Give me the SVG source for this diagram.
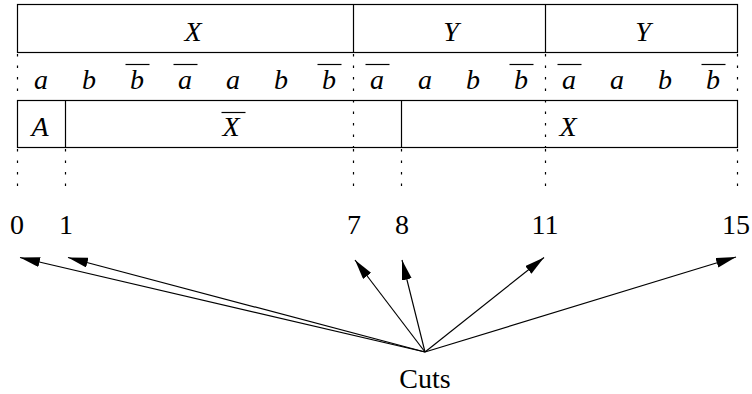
<svg xmlns="http://www.w3.org/2000/svg" width="752" height="394" viewBox="0 0 752 394">
<defs>
<style>
.box{fill:none;stroke:#000;stroke-width:1.2}
.dot{fill:none;stroke:#000;stroke-width:1.2;stroke-dasharray:2.5 9}
.bar{stroke:#000;stroke-width:1.2}
.it{font-family:"Liberation Serif",serif;font-style:italic;font-size:28px;text-anchor:middle;fill:#000}
.rm{font-family:"Liberation Serif",serif;font-size:28px;text-anchor:middle;fill:#000}
.arr{fill:none;stroke:#000;stroke-width:1.2;marker-end:url(#ah)}
</style>
<marker id="ah" viewBox="0 0 20 10" refX="20" refY="5" markerWidth="20" markerHeight="10" markerUnits="userSpaceOnUse" orient="auto">
<path d="M0,0 L20,5 L0,10 Z" fill="#000"/>
</marker>
</defs>
<rect width="752" height="394" fill="#fff"/>

<g id="top-row">
<rect class="box" x="17.5" y="4.5" width="720" height="48"/>
<line class="box" x1="353.5" y1="4.5" x2="353.5" y2="52.5"/>
<line class="box" x1="545.5" y1="4.5" x2="545.5" y2="52.5"/>
<text class="it" x="193" y="41">X</text>
<text class="it" x="451" y="41">Y</text>
<text class="it" x="643" y="41">Y</text>
</g>

<g id="middle-row">
<text class="it" x="41" y="89">a</text>
<text class="it" x="89" y="89">b</text>
<text class="it" x="137" y="89">b</text><line class="bar" x1="125.5" y1="64.5" x2="149.5" y2="64.5"/>
<text class="it" x="185" y="89">a</text><line class="bar" x1="173.5" y1="64.5" x2="197.5" y2="64.5"/>
<text class="it" x="233" y="89">a</text>
<text class="it" x="281" y="89">b</text>
<text class="it" x="329" y="89">b</text><line class="bar" x1="317.5" y1="64.5" x2="341.5" y2="64.5"/>
<text class="it" x="377" y="89">a</text><line class="bar" x1="365.5" y1="64.5" x2="389.5" y2="64.5"/>
<text class="it" x="425" y="89">a</text>
<text class="it" x="473" y="89">b</text>
<text class="it" x="521" y="89">b</text><line class="bar" x1="509.5" y1="64.5" x2="533.5" y2="64.5"/>
<text class="it" x="569" y="89">a</text><line class="bar" x1="557.5" y1="64.5" x2="581.5" y2="64.5"/>
<text class="it" x="617" y="89">a</text>
<text class="it" x="665" y="89">b</text>
<text class="it" x="713" y="89">b</text><line class="bar" x1="701.5" y1="64.5" x2="725.5" y2="64.5"/>
</g>

<g id="bottom-row">
<rect class="box" x="17.5" y="100.5" width="720" height="47"/>
<line class="box" x1="65.5" y1="100.5" x2="65.5" y2="147.5"/>
<line class="box" x1="401.5" y1="100.5" x2="401.5" y2="147.5"/>
<text class="it" x="40" y="136">A</text>
<text class="it" x="231" y="136">X</text><line class="bar" x1="221.5" y1="112.5" x2="245.5" y2="112.5"/>
<text class="it" x="568" y="136">X</text>
</g>

<g id="guides">
<line class="dot" x1="17.5" y1="54" x2="17.5" y2="100"/>
<line class="dot" x1="353.5" y1="54" x2="353.5" y2="147"/>
<line class="dot" x1="545.5" y1="54" x2="545.5" y2="147"/>
<line class="dot" x1="737.5" y1="54" x2="737.5" y2="100"/>
<line class="dot" x1="17.5" y1="149" x2="17.5" y2="192"/>
<line class="dot" x1="65.5" y1="149" x2="65.5" y2="192"/>
<line class="dot" x1="353.5" y1="149" x2="353.5" y2="192"/>
<line class="dot" x1="401.5" y1="149" x2="401.5" y2="192"/>
<line class="dot" x1="545.5" y1="149" x2="545.5" y2="192"/>
<line class="dot" x1="737.5" y1="149" x2="737.5" y2="192"/>
</g>

<g id="positions">
<text class="rm" x="17" y="234">0</text>
<text class="rm" x="66" y="234">1</text>
<text class="rm" x="354" y="234">7</text>
<text class="rm" x="402" y="234">8</text>
<text class="rm" x="545" y="234">11</text>
<text class="rm" x="736" y="234">15</text>
</g>

<g id="cuts">
<text class="rm" x="425" y="388">Cuts</text>
</g>

<g id="connectors">
<line class="arr" x1="425" y1="352" x2="20" y2="257.5"/>
<line class="arr" x1="425" y1="352" x2="68" y2="257.5"/>
<line class="arr" x1="425" y1="352" x2="355" y2="260"/>
<line class="arr" x1="425" y1="352" x2="402" y2="260"/>
<line class="arr" x1="425" y1="352" x2="544" y2="257.5"/>
<line class="arr" x1="425" y1="352" x2="736" y2="257"/>
</g>
</svg>
